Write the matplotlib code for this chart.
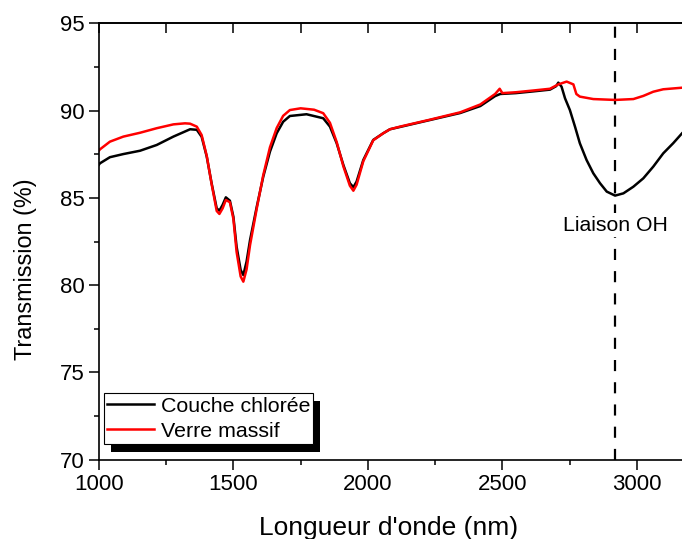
import matplotlib
matplotlib.use('Agg')
import matplotlib.pyplot as plt
from matplotlib.patches import Rectangle
from matplotlib.ticker import MultipleLocator

plt.rcParams['font.family'] = ['Liberation Sans', 'DejaVu Sans']

# Couche chlorée (black)
wl_couche = [1000, 1004, 1041, 1091, 1153, 1215, 1277, 1339, 1364, 1382, 1401, 1419, 1438,
             1448, 1460, 1472, 1487, 1500, 1512, 1527, 1537, 1549, 1562, 1587, 1611, 1636,
             1661, 1685, 1710, 1772, 1834, 1859, 1884, 1909, 1933, 1946, 1958, 1983, 2020,
             2057, 2082, 2119, 2231, 2343, 2418, 2473, 2492, 2550, 2615, 2677, 2700, 2708,
             2720, 2733, 2751, 2770, 2788, 2813, 2838, 2863, 2888, 2919, 2950, 2987, 3024,
             3061, 3098, 3135, 3168, 3200]
t_couche = [86.9, 86.98, 87.33, 87.51, 87.70, 88.03, 88.51, 88.93, 88.90, 88.50, 87.36, 85.84,
            84.40, 84.27, 84.6, 85.03, 84.84, 83.92, 82.2, 80.87, 80.58, 81.35, 82.59, 84.5,
            86.21, 87.65, 88.70, 89.36, 89.69, 89.79, 89.56, 89.08, 88.13, 86.88, 85.84, 85.61,
            85.93, 87.17, 88.32, 88.70, 88.93, 89.06, 89.46, 89.86, 90.26, 90.83, 90.95, 91.0,
            91.1, 91.2, 91.4, 91.6, 91.37, 90.70, 90.03, 89.08, 88.13, 87.17, 86.41, 85.84,
            85.36, 85.13, 85.26, 85.64, 86.12, 86.79, 87.55, 88.13, 88.70, 89.2]

# Verre massif (red)
wl_verre = [1000, 1004, 1041, 1091, 1153, 1215, 1277, 1320, 1339, 1364, 1382, 1401, 1419, 1438,
            1448, 1460, 1472, 1487, 1500, 1512, 1527, 1537, 1549, 1562, 1587, 1611, 1636, 1661,
            1685, 1710, 1750, 1800, 1834, 1859, 1884, 1909, 1933, 1946, 1958, 1983, 2020, 2057,
            2082, 2119, 2231, 2343, 2418, 2473, 2490, 2500, 2550, 2615, 2677, 2708, 2739, 2764,
            2775, 2788, 2838, 2919, 2987, 3024, 3061, 3098, 3168, 3200]
t_verre = [87.7, 87.78, 88.22, 88.51, 88.73, 88.99, 89.21, 89.27, 89.25, 89.08, 88.6, 87.4, 85.8,
           84.25, 84.08, 84.4, 84.88, 84.75, 83.8, 81.9, 80.5, 80.2, 80.9, 82.3, 84.4, 86.3, 87.9,
           89.0, 89.7, 90.03, 90.13, 90.05, 89.85, 89.3, 88.2, 86.8, 85.7, 85.41, 85.75, 87.1,
           88.3, 88.7, 88.93, 89.08, 89.48, 89.9, 90.35, 90.95, 91.25, 91.0, 91.05, 91.15, 91.25,
           91.5, 91.66, 91.5, 90.95, 90.8, 90.66, 90.61, 90.66, 90.84, 91.08, 91.22, 91.31, 91.35]

oh_band = 2920

fig = plt.figure(figsize=(6.82, 5.39), dpi=100)
ax = fig.add_axes([0.145, 0.147, 0.8677, 0.8098])

ax.plot(wl_couche, t_couche, color='black', lw=1.8, label='Couche chlorée')
ax.plot(wl_verre, t_verre, color='red', lw=1.8, label='Verre massif')
ax.axvline(oh_band, color='black', lw=1.6, linestyle=(0, (5, 5)), zorder=1)
ax.text(oh_band, 83.12, 'Liaison OH', ha='center', va='baseline', fontsize=15.3,
        bbox=dict(facecolor='white', edgecolor='none', pad=2), zorder=3)

ax.set_xlim(1000, 3200)
ax.set_ylim(70, 95)
ax.xaxis.set_major_locator(MultipleLocator(500))
ax.xaxis.set_minor_locator(MultipleLocator(250))
ax.yaxis.set_major_locator(MultipleLocator(5))
ax.yaxis.set_minor_locator(MultipleLocator(2.5))
ax.tick_params(which='major', direction='out', length=7, width=1.1, labelsize=16)
ax.tick_params(which='minor', direction='out', length=3.5, width=1.1)
for s in ax.spines.values():
    s.set_linewidth(1.2)

top = ax.secondary_xaxis('top')
top.xaxis.set_major_locator(MultipleLocator(500))
top.xaxis.set_minor_locator(MultipleLocator(250))
top.tick_params(which='both', direction='in', length=7, width=1.1, labeltop=False)
top.spines['top'].set_linewidth(1.2)

ax.set_xlabel("Longueur d'onde (nm)", fontsize=19)
ax.set_ylabel('Transmission (%)', fontsize=16.8)
ax.xaxis.set_label_coords(0.49, -0.129)
ax.yaxis.set_label_coords(-0.104, 0.436)

leg = ax.legend(loc='upper left', bbox_to_anchor=(104 / 682, 1 - 393.3 / 539),
                bbox_transform=fig.transFigure, borderaxespad=0, fontsize=15.4,
                fancybox=False, frameon=True, edgecolor='black', framealpha=1,
                borderpad=0.15, handlelength=2.2, handletextpad=0.3, labelspacing=0.3)
leg.get_frame().set_linewidth(0.8)

# black drop shadow offset down-right
fig.canvas.draw()
bb = leg.get_window_extent().transformed(ax.transAxes.inverted())
dx = 7 / (ax.bbox.width)
dy = 8 / (ax.bbox.height)
ax.add_patch(Rectangle((bb.x0 + dx, bb.y0 - dy), bb.width, bb.height, transform=ax.transAxes,
                       facecolor='black', edgecolor='none', zorder=4.9, clip_on=False))

fig.savefig('out.png', dpi=100)
